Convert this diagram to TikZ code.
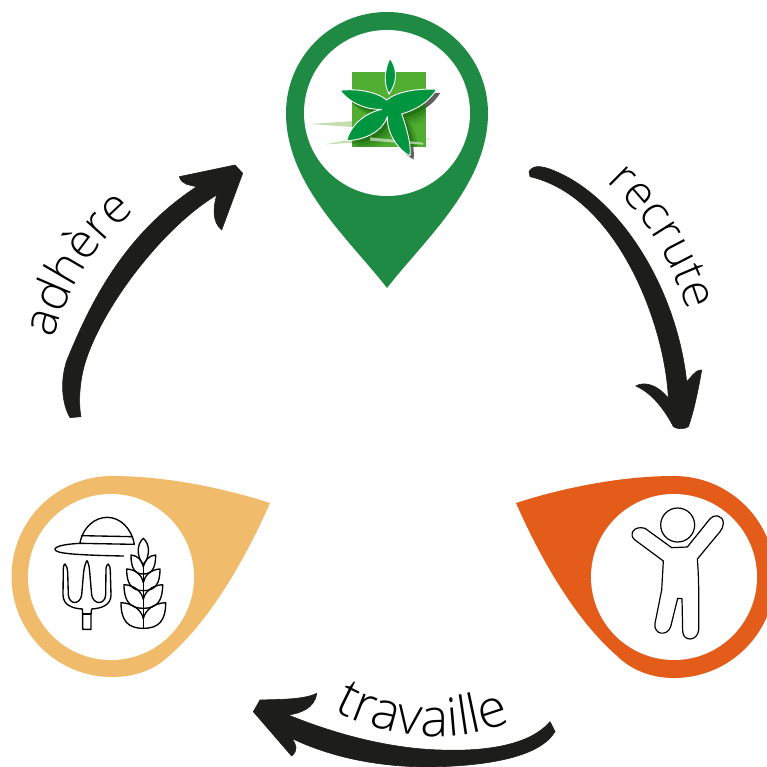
\documentclass[tikz,border=0pt]{standalone}
\usepackage{fontspec}
\usetikzlibrary{decorations.text}
\newfontfamily\lightfont{Open Sans Light}
\definecolor{pingreen}{HTML}{1F8A43}
\definecolor{pinyellow}{HTML}{F0BC6B}
\definecolor{pinorange}{HTML}{E45C1A}
\definecolor{arrowblack}{HTML}{1D1D1B}
\definecolor{leafgreen}{HTML}{009640}
\definecolor{squaregreen}{HTML}{52AE32}
\definecolor{grass}{HTML}{C5DDB0}
\newcommand{\starpath}{(150,211) .. controls (200,205) and (260,215) .. (290,240) .. controls (320,215) and (380,205) .. (440,208) .. controls (420,240) and (390,265) .. (335,282) .. controls (345,310) and (365,370) .. (360,408) .. controls (325,390) and (290,340) .. (292,290) .. controls (280,330) and (230,360) .. (170,362) .. controls (180,320) and (220,280) .. (275,268) .. controls (230,270) and (180,250) .. (150,211) -- cycle}
\newcommand{\wheatleaf}[4]{% tip x, tip y, base y, sign
  (340,#3) .. controls ({340-#4*0.7*abs(340-#1)},#3) and ({#1},{#3-0.3*(#3-#2)}) .. (#1,#2) .. controls ({340-#4*0.45*abs(340-#1)},{#2+0.02*(#3-#2)}) and ({340-#4*0.08*abs(340-#1)},{#2+0.3*(#3-#2)}) .. (340,{#2+0.62*(#3-#2)})}
\tikzset{
  px3/.style={x=0.33333pt,y=-0.33333pt},
  hole/.style={circle,fill=white,inner sep=0pt,outer sep=0pt,minimum size=166pt},
  iconline/.style={draw=black,line width=1.35pt,line join=round,line cap=round},
  bigarrow/.style={fill=arrowblack,draw=arrowblack,line width=0.6pt,line join=round},
  curvedword/.style 2 args={decorate,decoration={text along path,text align=center,text={|\lightfont\fontsize{#1}{#1}\selectfont|#2}}}
}
\begin{document}
\begin{tikzpicture}[x=1pt,y=-1pt]
\useasboundingbox (0,0) rectangle (766,767);
% pins
\fill[pingreen] (387,288) .. controls (350,240) and (286,185) .. (286,113) arc[start angle=180,end angle=0,x radius=101pt,y radius=101pt] .. controls (488,185) and (424,240) .. (387,288) -- cycle;
\fill[pinyellow] (270,503) .. controls (230,490) and (170,476) .. (112,476) arc[start angle=90,end angle=270,x radius=100.5pt,y radius=100.5pt] .. controls (135,677) and (155,670) .. (170,655) .. controls (210,620) and (245,560) .. (270,503) -- cycle;
\fill[pinorange] (516,503) .. controls (556,490) and (616,476) .. (674,476) arc[start angle=90,end angle=-90,x radius=101pt,y radius=101pt] .. controls (651,678) and (631,670) .. (616,655) .. controls (576,620) and (541,560) .. (516,503) -- cycle;
\node[hole] (pingreenhole) at (387,113) {};
\node[hole] (pinyellowhole) at (111,577) {};
\node[hole] (pinorangehole) at (674,577) {};
% logo
\begin{scope}[shift={(290,20)},px3]
  \fill[grass] (60,312) -- (195,303) -- (195,322) -- cycle;
  \fill[grass] (108,373) -- (195,355) -- (195,368) -- cycle;
  \fill[grass] (360,338) -- (425,360) -- (360,352) -- cycle;
  \fill[squaregreen] (186,157) rectangle (407,380);
  \begin{scope}
    \clip (186,157) rectangle (407,380);
    \foreach \d/\o in {34/0.10,26/0.14,18/0.2,10/0.3}{
      \begin{scope}[xshift=\d*0.33333pt,yshift=-\d*0.33333pt]
        \fill[black!70!green,opacity=\o] \starpath;
      \end{scope}}
    \fill[white,opacity=.55] (240,352) -- (400,368) -- (400,374) -- (240,362) -- cycle;
  \end{scope}
  \begin{scope}
    \clip (407,157) -- (520,157) -- (520,450) -- (300,450) -- (300,380) -- (407,380) -- cycle;
    \begin{scope}[xshift=3.6pt,yshift=-3.6pt]
      \fill[black!62] \starpath;
    \end{scope}
  \end{scope}
  \filldraw[fill=leafgreen,draw=white,line width=.9pt,line join=round] \starpath;
  \filldraw[fill=leafgreen,draw=white,line width=.9pt] (300,115) .. controls (283,150) and (280,190) .. (297,222) .. controls (320,190) and (325,150) .. (300,115) -- cycle;
\end{scope}
% farmer icon
\begin{scope}[shift={(30,500)},px3]
  \draw[iconline] (150,128) .. controls (160,80) and (195,52) .. (232,52) .. controls (270,52) and (305,85) .. (313,133) -- (150,130) .. controls (110,132) and (75,138) .. (75,148) .. controls (75,160) and (130,165) .. (280,168);
  \draw[iconline] (155,107) -- (308,110);
  \draw[iconline] (100,205) .. controls (100,197) and (103,193) .. (105,192) .. controls (110,197) and (112,205) .. (113,215) -- (115,285) .. controls (118,315) and (150,315) .. (155,285) -- (161,215) .. controls (163,200) and (167,187) .. (171,182) .. controls (175,187) and (178,200) .. (179,215) -- (185,285) .. controls (190,315) and (225,315) .. (227,285) -- (228,205) .. controls (229,197) and (232,193) .. (235,192) .. controls (240,197) and (241,205) .. (241,215) -- (243,285) .. controls (243,315) and (215,325) .. (185,327) -- (183,342) -- (183,388) -- (158,388) -- (158,342) -- (157,327) .. controls (125,325) and (100,315) .. (99,285) -- cycle;
  \draw[iconline] (158,342) -- (183,342);
  \draw[iconline] (340,190) -- (340,385);
  \draw[iconline] (340,115) .. controls (322,130) and (317,165) .. (340,195) .. controls (363,165) and (358,130) .. (340,115) -- cycle;
  \draw[iconline] \wheatleaf{303}{165}{222}{1};
  \draw[iconline] \wheatleaf{377}{165}{222}{-1};
  \draw[iconline] \wheatleaf{290}{207}{272}{1};
  \draw[iconline] \wheatleaf{390}{207}{272}{-1};
  \draw[iconline] \wheatleaf{282}{254}{325}{1};
  \draw[iconline] \wheatleaf{398}{254}{325}{-1};
  \draw[iconline] \wheatleaf{273}{308}{385}{1};
  \draw[iconline] \wheatleaf{407}{308}{385}{-1};
\end{scope}
% person icon
\begin{scope}[shift={(610,490)},px3]
  \draw[iconline,line width=1.2pt] (203,105) circle[radius=51];
  \draw[iconline,line width=1.2pt] (185,173) -- (232,171) -- (297,90) .. controls (312,70) and (340,75) .. (340,100) .. controls (340,110) and (335,118) .. (330,125) -- (262,207) .. controls (268,280) and (266,350) .. (266,420) .. controls (262,455) and (220,455) .. (218,425) -- (216,326) -- (203,325) -- (182,410) .. controls (172,440) and (130,435) .. (135,400) -- (155,300) -- (160,213) -- (75,150) .. controls (55,135) and (70,105) .. (105,115) -- cycle;
\end{scope}
% arrows
\begin{scope}[shift={(520,150)},px3]
  \filldraw[bigarrow] (27,65) .. controls (40,42) and (70,45) .. (130,75) .. controls (310,165) and (470,420) .. (500,695) .. controls (510,690) and (520,660) .. (545,660) .. controls (535,720) and (520,790) .. (505,830) .. controls (495,838) and (470,838) .. (460,830) .. controls (440,790) and (400,730) .. (347,708) .. controls (370,695) and (410,700) .. (445,745) .. controls (435,520) and (290,140) .. (30,80) -- cycle;
\end{scope}
\begin{scope}[shift={(20,150)},px3]
  \filldraw[bigarrow] (150,803) .. controls (125,760) and (120,690) .. (141,630) .. controls (212,457) and (312,253) .. (530,110) .. controls (510,105) and (485,105) .. (478,80) -- (645,45) -- (668,70) -- (605,240) .. controls (575,215) and (580,170) .. (590,135) .. controls (429,232) and (252,465) .. (198,630) .. controls (178,690) and (175,760) .. (183,800) -- cycle;
\end{scope}
\begin{scope}[shift={(240,670)},px3]
  \filldraw[bigarrow] (930,155) .. controls (870,225) and (740,245) .. (600,240) .. controls (440,235) and (280,190) .. (145,135) .. controls (180,130) and (225,115) .. (230,70) .. controls (190,90) and (110,88) .. (60,90) -- (40,125) -- (155,258) .. controls (175,240) and (170,225) .. (155,205) .. controls (290,270) and (450,295) .. (600,290) .. controls (750,285) and (900,260) .. (945,185) -- cycle;
\end{scope}
% labels
\path[curvedword={48}{adhère}] (52,348) .. controls (64,293) and (92,245) .. (142,205);
\path[curvedword={47}{recrute}] (596,172) .. controls (646,215) and (676,265) .. (691,325);
\path[curvedword={53}{travaille}] (330,708) .. controls (390,742) and (460,745) .. (515,720);
\end{tikzpicture}
\end{document}
